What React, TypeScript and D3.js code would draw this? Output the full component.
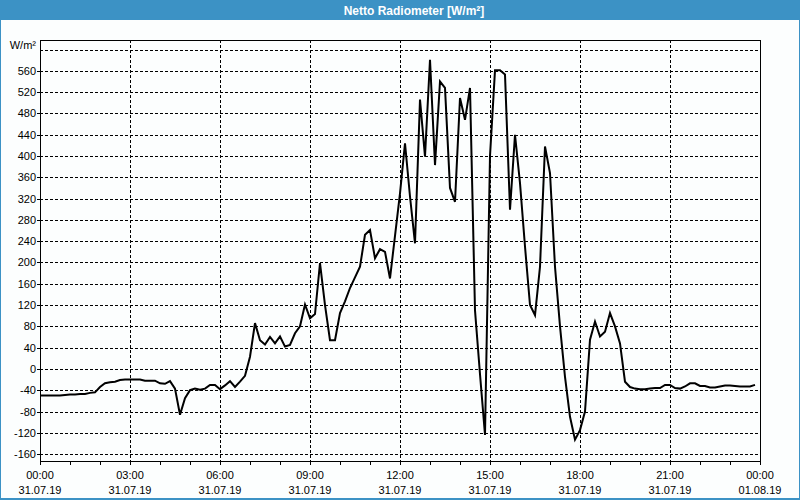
import React from "react";
import * as d3 from "d3";

const title = "Netto Radiometer [W/m²]";
const unitLabel = "W/m²";
const startTime = new Date(2019, 6, 31, 0, 0);
const endTime = new Date(2019, 7, 1, 0, 0);
const stepMinutes = 10;
const yTicks = [-160, -120, -80, -40, 0, 40, 80, 120, 160, 200, 240, 280, 320, 360, 400, 440, 480, 520, 560, 600];
const yLabelMax = 560;
const values = [
  -50, -50, -50, -50, -50, -49, -48, -48, -47, -47,
  -45, -44, -34, -27, -25, -24, -21, -20, -20, -20,
  -20, -22, -22, -22, -27, -28, -23, -37, -86, -55,
  -40, -37, -39, -37, -30, -30, -38, -31, -23, -34,
  -24, -13, 23, 86, 54, 46, 60, 48, 61, 42,
  45, 67, 80, 121, 95, 103, 199, 120, 54, 54,
  105, 127, 152, 172, 192, 252, 261, 208, 225, 220,
  170, 250, 330, 424, 324, 236, 506, 399, 581, 383,
  540, 528, 340, 314, 509, 468, 528, 110, -10, -124,
  400, 561, 561, 553, 299, 440, 349, 230, 120, 101,
  192, 418, 368, 192, 80, -15, -90, -133, -115, -80,
  55, 89, 61, 70, 105, 80, 48, -24, -34, -37,
  -38, -38, -37, -36, -36, -30, -30, -36, -37, -33,
  -27, -27, -32, -32, -35, -35, -33, -31, -31, -32,
  -33, -33, -33, -30,
];

const W = 800;
const H = 500;
const left = 40;
const right = 760;
const top = 40;
const bottom = 461;
const font = "'Liberation Sans', Arial, sans-serif";

export default function App() {
  const x = d3.scaleTime().domain([startTime, endTime]).range([left, right]);
  const y = d3.scaleLinear().domain([-173, 618]).range([bottom, top]);
  const pts = values.map((v, i) => ({ t: d3.timeMinute.offset(startTime, i * stepMinutes), v }));
  const line = d3
    .line<{ t: Date; v: number }>()
    .x((d) => x(d.t))
    .y((d) => y(d.v));
  const hourTicks = d3.timeHour.range(startTime, d3.timeMinute.offset(endTime, 1));
  const majorTicks = d3.timeHour.every(3)!.range(startTime, d3.timeMinute.offset(endTime, 1));
  const fmtT = d3.timeFormat("%H:%M");
  const fmtD = d3.timeFormat("%d.%m.%y");

  return (
    <svg width={W} height={H} style={{ position: "absolute", left: 0, top: 0 }} fontFamily={font}>
      <rect x={0} y={0} width={W} height={H} fill="#fcfefe" />
      <rect x={0.5} y={0.5} width={W - 1} height={H - 1.5} fill="none" stroke="#3c92c5" strokeWidth={1} />
      <rect x={0} y={H - 2} width={W} height={2} fill="#3c92c5" />
      <rect x={0} y={0} width={W} height={20} fill="#3c92c5" />
      <text x={414} y={14.5} textAnchor="middle" fill="#ffffff" fontWeight="bold" fontSize={12}>
        {title}
      </text>

      {/* gridlines */}
      {yTicks.map((t) => (
        <line key={"gy" + t} x1={left} x2={right} y1={Math.round(y(t)) + 0.5} y2={Math.round(y(t)) + 0.5}
          stroke="#000" strokeWidth={1} strokeDasharray="3,2" />
      ))}
      {majorTicks.filter((t) => +t !== +startTime && +t !== +endTime).map((t) => (
        <line key={"gx" + +t} x1={Math.round(x(t)) + 0.5} x2={Math.round(x(t)) + 0.5} y1={top} y2={bottom}
          stroke="#000" strokeWidth={1} strokeDasharray="3,2" />
      ))}

      {/* frame */}
      <rect x={left + 0.5} y={top + 0.5} width={right - left} height={bottom - top} fill="none" stroke="#000" strokeWidth={1} />

      {/* y ticks and labels */}
      {yTicks.filter((t) => t <= yLabelMax).map((t) => (
        <g key={"ty" + t}>
          <line x1={left - 3} x2={left} y1={Math.round(y(t)) + 0.5} y2={Math.round(y(t)) + 0.5} stroke="#000" />
          <text x={36} y={y(t) + 4} textAnchor="end" fontSize={11} fill="#000">
            {t}
          </text>
        </g>
      ))}
      <text x={36} y={49} textAnchor="end" fontSize={11} fill="#000">
        {unitLabel}
      </text>

      {/* x ticks and labels */}
      {hourTicks.map((t) => (
        <line key={"tx" + +t} x1={Math.round(x(t)) + 0.5} x2={Math.round(x(t)) + 0.5} y1={bottom} y2={bottom + 4} stroke="#000" />
      ))}
      {majorTicks.map((t) => (
        <g key={"lx" + +t}>
          <text x={x(t)} y={479} textAnchor="middle" fontSize={11} fill="#000">
            {fmtT(t)}
          </text>
          <text x={x(t)} y={494} textAnchor="middle" fontSize={11} fill="#000">
            {fmtD(t)}
          </text>
        </g>
      ))}

      <path d={line(pts) || ""} fill="none" stroke="#000" strokeWidth={2} strokeLinejoin="miter" />
    </svg>
  );
}
